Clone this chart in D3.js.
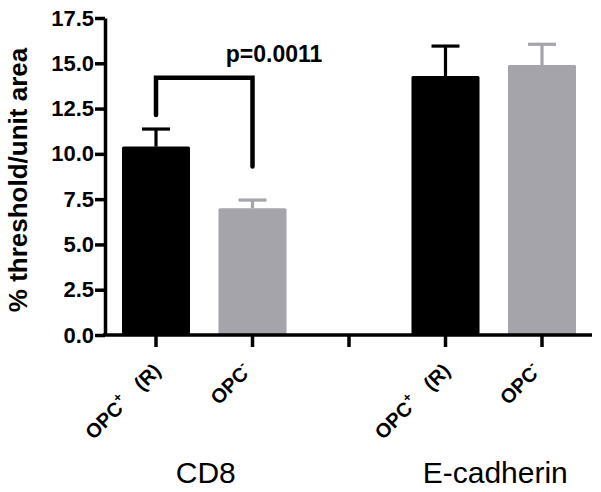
<!DOCTYPE html>
<html>
<head>
<meta charset="utf-8">
<script src="https://cdn.jsdelivr.net/npm/d3@7"></script>
<style>
  html, body { margin: 0; padding: 0; background: #fff; }
  svg { display: block; font-family: "Liberation Sans", Arial, Helvetica, sans-serif; }
</style>
</head>
<body>
<svg id="chart" width="601" height="492"></svg>
<script>
// ---- data ----
const slots = ["CD8_pos", "CD8_neg", "gap", "Ecad_pos", "Ecad_neg"];
const groups = ["CD8", "E-cadherin"];
const barKeys = ["CD8_pos", "CD8_neg", "Ecad_pos", "Ecad_neg"];
const barGroup = ["CD8", "CD8", "E-cadherin", "E-cadherin"];
const barType = ["pos", "neg", "pos", "neg"];
const means = [10.4, 7.0, 14.3, 14.9];
const errUpper = [11.37, 7.45, 15.95, 16.05];
const yTicks = [0, 2.5, 5, 7.5, 10, 12.5, 15, 17.5];
const yTitle = "% threshold/unit area";
const pLabel = "p=0.0011";
const bracketFrom = ["CD8_pos", 12.15];
const bracketTo = ["CD8_neg", 9.3];
const bracketTop = 14.2;

const colors = { pos: "#000000", neg: "#a5a4aa" };

// ---- layout ----
const svg = d3.select("#chart");
const y = d3.scaleLinear().domain([0, 17.5]).range([335, 18]);
const x = d3.scalePoint().domain(slots).range([156, 542]);
const step = x.step();
const barW = step * 0.705;
const capW = step * 0.29;

const bars = barKeys.map((k, i) => ({ k, g: barGroup[i], t: barType[i], m: means[i], e: errUpper[i] }));

// error bars (drawn behind bars)
const eg = svg.append("g");
bars.forEach(d => {
  const c = colors[d.t];
  eg.append("line")
    .attr("x1", x(d.k)).attr("x2", x(d.k))
    .attr("y1", y(d.m)).attr("y2", y(d.e))
    .attr("stroke", c).attr("stroke-width", 3.2);
  eg.append("line")
    .attr("x1", x(d.k) - capW / 2).attr("x2", x(d.k) + capW / 2)
    .attr("y1", y(d.e)).attr("y2", y(d.e))
    .attr("stroke", c).attr("stroke-width", 3.2);
});

svg.append("g").selectAll("rect").data(bars).join("rect")
  .attr("x", d => x(d.k) - barW / 2)
  .attr("width", barW)
  .attr("y", d => y(d.m))
  .attr("height", d => y(0) - y(d.m))
  .attr("rx", 1.5)
  .attr("fill", d => colors[d.t]);

// ---- y axis ----
const yAxis = svg.append("g").attr("transform", `translate(105,0)`)
  .call(d3.axisLeft(y).tickValues(yTicks).tickFormat(d3.format(".1f")).tickSize(10).tickPadding(1).tickSizeOuter(0));
yAxis.select(".domain").attr("stroke", "#000").attr("stroke-width", 3.5);
yAxis.selectAll(".tick line").attr("stroke", "#000").attr("stroke-width", 3.5);
yAxis.selectAll(".tick text")
  .attr("fill", "#000").attr("font-size", 22).attr("font-weight", "bold")
  .attr("font-family", "'Liberation Sans', Arial, sans-serif");

// ---- x axis ----
const xAxisG = svg.append("g").attr("transform", `translate(0,${y(0)})`);
xAxisG.append("line")
  .attr("x1", 103).attr("x2", 592).attr("y1", 0).attr("y2", 0)
  .attr("stroke", "#000").attr("stroke-width", 3.5);
xAxisG.selectAll("line.tk").data(slots).join("line").attr("class", "tk")
  .attr("x1", d => x(d)).attr("x2", d => x(d))
  .attr("y1", 0).attr("y2", 12)
  .attr("stroke", "#000").attr("stroke-width", 3.5);

// rotated tick labels
bars.forEach(d => {
  const t = svg.append("text")
    .attr("transform", `translate(${x(d.k) + (d.t === "pos" ? 6 : 0)},${y(0) + 37}) rotate(-45)`)
    .attr("text-anchor", "end")
    .attr("font-size", 20).attr("font-weight", "bold").attr("fill", "#000");
  t.append("tspan").text("OPC");
  if (d.t === "pos") {
    t.append("tspan").attr("font-size", 13).attr("dy", -9).text("+");
    t.append("tspan").attr("dy", 9).attr("dx", 18).text("(R)");
  } else {
    t.append("tspan").attr("font-size", 13).attr("dy", -9).text("-");
  }
});

// group labels
groups.forEach(g => {
  const ks = barKeys.filter((k, i) => barGroup[i] === g);
  const cx = (x(ks[0]) + x(ks[1])) / 2 + 1.5;
  svg.append("text")
    .attr("x", cx).attr("y", 483)
    .attr("text-anchor", "middle")
    .attr("font-size", 30).attr("fill", "#000")
    .text(g);
});

// y title
svg.append("text")
  .attr("transform", `translate(27,180) rotate(-90)`)
  .attr("text-anchor", "middle")
  .attr("font-size", 26).attr("font-weight", "bold").attr("fill", "#000")
  .text(yTitle);

// significance bracket
const bpath = d3.path();
bpath.moveTo(x(bracketFrom[0]), y(bracketFrom[1]));
bpath.lineTo(x(bracketFrom[0]), y(bracketTop));
bpath.lineTo(x(bracketTo[0]), y(bracketTop));
bpath.lineTo(x(bracketTo[0]), y(bracketTo[1]));
svg.append("path").attr("d", bpath.toString())
  .attr("fill", "none").attr("stroke", "#000").attr("stroke-width", 4.5)
  .attr("stroke-linecap", "round").attr("stroke-linejoin", "miter");

svg.append("text")
  .attr("x", x(bracketTo[0]) + 21.5).attr("y", 62)
  .attr("text-anchor", "middle")
  .attr("font-size", 23).attr("font-weight", "bold").attr("fill", "#000")
  .text(pLabel);
</script>
</body>
</html>
